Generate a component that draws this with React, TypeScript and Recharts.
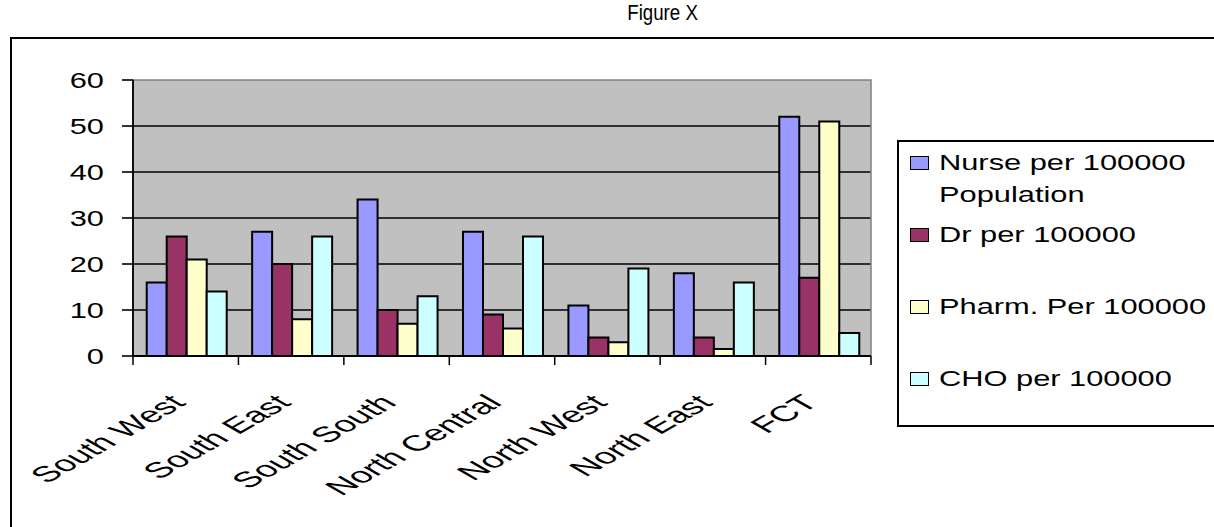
import React from "react"
import { BarChart, Bar, XAxis, YAxis, CartesianGrid, Legend, ReferenceArea } from "recharts"

const regions = ["South West", "South East", "South South", "North Central", "North West", "North East", "FCT"]
const nurse = [16, 27, 34, 27, 11, 18, 52]
const doctor = [26, 20, 10, 9, 4, 4, 17]
const pharm = [21, 8, 7, 6, 3, 1.5, 51]
const cho = [14, 26, 13, 26, 19, 16, 5]
const yTicks = [0, 10, 20, 30, 40, 50, 60]
const gridValues = [10, 20, 30, 40, 50]

const series = [
  { key: "nurse", name: "Nurse per 100000 Population", color: "#9999FF" },
  { key: "doctor", name: "Dr per 100000", color: "#993366" },
  { key: "pharm", name: "Pharm. Per 100000", color: "#FFFFCC" },
  { key: "cho", name: "CHO per 100000", color: "#CCFFFF" },
]

const data = regions.map((region, i) => ({
  region,
  nurse: nurse[i],
  doctor: doctor[i],
  pharm: pharm[i],
  cho: cho[i],
}))

const W = 1214
const H = 527
const PLOT_LEFT = 133
const PLOT_RIGHT = 871
const PLOT_TOP = 80
const PLOT_BOTTOM = 356
const PLOT_W = PLOT_RIGHT - PLOT_LEFT

const FONT = "'Liberation Sans', Arial, sans-serif"
const STRETCH = 1.4

function ValueTick(props: any) {
  const { x, y, payload } = props
  return (
    <g transform={`translate(${x},${y}) scale(${STRETCH},1)`}>
      <text x={0} y={0} dy="0.36em" textAnchor="end" fontSize={22} fontFamily={FONT} fill="#000">
        {payload.value}
      </text>
    </g>
  )
}

// category labels + tick marks on the boundaries between groups
function RegionTick(props: any) {
  const { x, y, payload, index } = props
  const band = PLOT_W / regions.length
  const left = x - band / 2
  return (
    <g>
      <line x1={left} y1={y} x2={left} y2={y + 9} stroke="#000" strokeWidth={1.5} />
      {index === regions.length - 1 && (
        <line x1={x + band / 2} y1={y} x2={x + band / 2} y2={y + 9} stroke="#000" strokeWidth={1.5} />
      )}
      <g transform={`translate(${x - 18},${y + 37}) scale(1.75,1) rotate(-45)`}>
        <text x={0} y={0} dy="0.71em" textAnchor="end" fontSize={22} fontFamily={FONT} fill="#000">
          {payload.value}
        </text>
      </g>
    </g>
  )
}

function LegendBox() {
  return (
    <div
      style={{
        width: "100%",
        height: "100%",
        boxSizing: "border-box",
        border: "2px solid #000",
        background: "#fff",
        paddingTop: 5,
        fontFamily: FONT,
        fontSize: 22,
        color: "#000",
      }}
    >
      {series.map((s) => (
        <div key={s.key} style={{ height: 72, position: "relative" }}>
          <div
            style={{
              position: "absolute",
              left: 11,
              top: 9,
              width: 19,
              height: 14,
              boxSizing: "border-box",
              border: "1.5px solid #000",
              background: s.color,
            }}
          />
          <div
            style={{
              position: "absolute",
              left: 40,
              top: 0,
              width: 196,
              lineHeight: "32px",
              transform: `scaleX(${STRETCH})`,
              transformOrigin: "left top",
            }}
          >
            {s.name}
          </div>
        </div>
      ))}
    </div>
  )
}

export default function App() {
  return (
    <div style={{ position: "fixed", left: 0, top: 0, width: W, height: H, overflow: "hidden", background: "#fff" }}>
      <div
        style={{
          position: "absolute",
          left: 0,
          top: 2,
          width: 1326,
          textAlign: "center",
          fontFamily: FONT,
          fontSize: 22,
          lineHeight: "22px",
          color: "#000",
        }}
      >
        <span style={{ display: "inline-block", transform: "scaleX(0.85)" }}>Figure X</span>
      </div>
      <div
        style={{
          position: "absolute",
          left: 10,
          top: 37,
          width: 1400,
          height: 800,
          border: "2px solid #000",
        }}
      />
      <div style={{ position: "absolute", left: 0, top: 0 }}>
        <BarChart
          width={W}
          height={H}
          data={data}
          margin={{ top: PLOT_TOP, right: W - PLOT_RIGHT, bottom: 0, left: 0 }}
          barCategoryGap="13%"
          barGap={0}
        >
          <CartesianGrid
            vertical={false}
            horizontalValues={gridValues}
            stroke="#000"
            strokeWidth={1.6}
            fill="#C0C0C0"
            fillOpacity={1}
          />
          <ReferenceArea y1={0} y2={60} fill="none" stroke="#808080" strokeWidth={1.5} />
          <XAxis
            dataKey="region"
            height={H - PLOT_BOTTOM}
            axisLine={{ stroke: "#000", strokeWidth: 1.8 }}
            tickLine={false}
            tickSize={0}
            tickMargin={0}
            interval={0}
            tick={<RegionTick />}
          />
          <YAxis
            width={PLOT_LEFT}
            domain={[0, 60]}
            ticks={yTicks}
            interval={0}
            axisLine={{ stroke: "#000", strokeWidth: 1.8 }}
            tickLine={{ stroke: "#000", strokeWidth: 1.6 }}
            tickSize={11}
            tickMargin={18}
            tick={<ValueTick />}
          />
          <Legend
            layout="horizontal"
            verticalAlign="middle"
            align="center"
            wrapperStyle={{ left: 897, top: 140, width: 360, height: 287 }}
            content={<LegendBox />}
          />
          {series.map((s) => (
            <Bar
              key={s.key}
              dataKey={s.key}
              name={s.name}
              fill={s.color}
              stroke="#000"
              strokeWidth={2}
              isAnimationActive={false}
            />
          ))}
        </BarChart>
      </div>
    </div>
  )
}
